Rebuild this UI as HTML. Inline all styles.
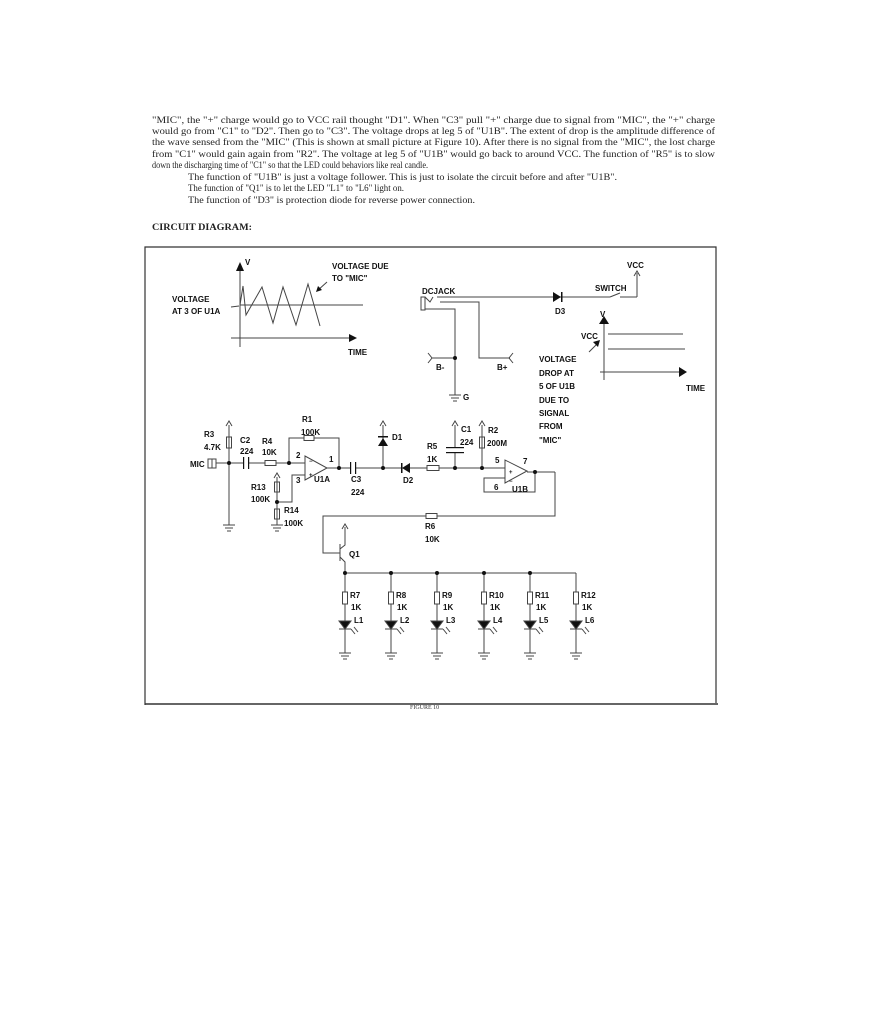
<!DOCTYPE html>
<html><head><meta charset="utf-8"><style>
html,body{margin:0;padding:0;background:#fff;}
svg{display:block;}
.p{font-family:"Liberation Serif",serif;font-size:9.4px;fill:#222;}
.t{font-family:"Liberation Sans",sans-serif;font-size:8px;font-weight:bold;fill:#111;}
</style></head><body>
<svg width="879" height="1024" viewBox="0 0 879 1024" xmlns="http://www.w3.org/2000/svg">
<defs>
<g id="col" stroke="#444" stroke-width="1" fill="none">
<line x1="0" y1="0" x2="0" y2="80"/>
<rect x="-2.5" y="19" width="5" height="12" fill="#fff"/>
<polygon points="-6,48 6,48 0,56" fill="#111"/><line x1="-6" y1="56" x2="6" y2="56"/>
<line x1="6" y1="56" x2="10" y2="61"/><line x1="9" y1="54" x2="13" y2="59"/>
<line x1="-6" y1="80" x2="6" y2="80"/><line x1="-4" y1="83" x2="4" y2="83"/><line x1="-2" y1="86" x2="2" y2="86"/>
</g>
</defs>
<g class="p">
<text x="152" y="123" textLength="563" lengthAdjust="spacingAndGlyphs">"MIC", the "+" charge would go to VCC rail thought "D1". When "C3" pull "+" charge due to signal from "MIC", the "+" charge</text>
<text x="152" y="134" textLength="563" lengthAdjust="spacingAndGlyphs">would go from "C1" to "D2". Then go to "C3". The voltage drops at leg 5 of "U1B". The extent of drop is the amplitude difference of</text>
<text x="152" y="145" textLength="563" lengthAdjust="spacingAndGlyphs">the wave sensed from the "MIC" (This is shown at small picture at Figure 10). After there is no signal from the "MIC", the lost charge</text>
<text x="152" y="157" textLength="563" lengthAdjust="spacingAndGlyphs">from "C1" would gain again from "R2". The voltage at leg 5 of "U1B" would go back to around VCC. The function of "R5" is to slow</text>
<text x="152" y="168" textLength="276" lengthAdjust="spacingAndGlyphs">down the discharging time of "C1" so that the LED could behaviors like real candle.</text>
<text x="188" y="180" textLength="429" lengthAdjust="spacingAndGlyphs">The function of "U1B" is just a voltage follower. This is just to isolate the circuit before and after "U1B".</text>
<text x="188" y="191" textLength="216" lengthAdjust="spacingAndGlyphs">The function of "Q1" is to let the LED "L1" to "L6" light on.</text>
<text x="188" y="203" textLength="287" lengthAdjust="spacingAndGlyphs">The function of "D3" is protection diode for reverse power connection.</text>
<text x="152" y="230" font-weight="bold" textLength="100" lengthAdjust="spacingAndGlyphs">CIRCUIT DIAGRAM:</text>
</g>
<g fill="none" stroke="#333" stroke-width="1.2">
<polyline points="145,705 145,247 716,247 716,703"/>
<line x1="145" y1="704" x2="718" y2="704" stroke-width="1.5"/>
</g>
<g stroke="#444" stroke-width="1" fill="none">
<line x1="240" y1="268" x2="240" y2="347"/>
<line x1="231" y1="338" x2="352" y2="338"/>
<line x1="240" y1="305" x2="363" y2="305"/>
<polyline points="240,305 243,286 246,315 262,287 273,323 283,287 296,325 308,284 320,326"/>
<line x1="327" y1="282" x2="317" y2="291"/>
<line x1="231" y1="307" x2="239" y2="306"/>
<rect x="421" y="297" width="4" height="13"/>
<polyline points="425,297 430,302 433,297"/>
<line x1="437" y1="297" x2="610" y2="297"/>
<line x1="610" y1="297" x2="620" y2="293"/>
<line x1="620" y1="297" x2="637" y2="297"/>
<line x1="637" y1="297" x2="637" y2="273"/>
<polyline points="425,309 455,309 455,395"/>
<polyline points="440,302 479,302 479,358 510,358"/>
<line x1="432" y1="358" x2="455" y2="358"/>
<polyline points="428,353 432,358 428,363"/>
<polyline points="513,353 509,358 513,363"/>
<line x1="449" y1="395" x2="461" y2="395"/><line x1="451" y1="398" x2="459" y2="398"/><line x1="453" y1="401" x2="457" y2="401"/>
<line x1="604" y1="322" x2="604" y2="380"/>
<line x1="608" y1="334" x2="683" y2="334"/>
<line x1="608" y1="349" x2="685" y2="349"/>
<line x1="600" y1="372" x2="686" y2="372"/>
<line x1="589" y1="352" x2="598" y2="343"/>
<rect x="208" y="459" width="4" height="9"/>
<polyline points="212,459 216,459 216,468 212,468"/>
<line x1="216" y1="463" x2="244" y2="463"/>
<line x1="229" y1="425" x2="229" y2="525"/>
<rect x="226.5" y="437" width="5" height="11"/>
<line x1="249" y1="463" x2="265" y2="463"/>
<rect x="265" y="460.5" width="11" height="5"/>
<line x1="276" y1="463" x2="305" y2="463"/>
<polyline points="289,463 289,438 304,438"/><rect x="304" y="435.5" width="10" height="5"/><polyline points="314,438 339,438 339,469"/>
<polygon points="305,456 305,480 327,468"/>
<line x1="327" y1="468" x2="351" y2="468"/>
<polyline points="305,475 292,475 292,502 277,502"/>
<line x1="277" y1="477" x2="277" y2="525"/>
<rect x="274.5" y="482" width="5" height="10"/><rect x="274.5" y="509" width="5" height="10"/>
<line x1="271" y1="525" x2="283" y2="525"/><line x1="273" y1="528" x2="281" y2="528"/><line x1="275" y1="531" x2="279" y2="531"/>
<line x1="223" y1="525" x2="235" y2="525"/><line x1="225" y1="528" x2="233" y2="528"/><line x1="227" y1="531" x2="231" y2="531"/>
<line x1="356" y1="468" x2="402" y2="468"/>
<line x1="383" y1="425" x2="383" y2="468"/>
<line x1="410" y1="468" x2="427" y2="468"/>
<rect x="427" y="465.5" width="12" height="5"/>
<line x1="439" y1="468" x2="505" y2="468"/>
<line x1="455" y1="425" x2="455" y2="448"/><line x1="455" y1="453" x2="455" y2="468"/>
<line x1="482" y1="425" x2="482" y2="468"/><rect x="479.5" y="437" width="5" height="11"/>
<polygon points="505,460 505,483 527,471"/>
<line x1="527" y1="472" x2="555" y2="472"/>
<polyline points="505,478 484,478 484,492 535,492 535,472"/>
<polyline points="555,472 555,516 437,516"/><rect x="426" y="513.5" width="11" height="5"/><polyline points="426,516 323,516 323,553 340,553"/>
<line x1="340" y1="544" x2="340" y2="561"/>
<polyline points="340,549 345,545 345,527"/>
<polyline points="340,557 345,562 345,573"/>
<line x1="345" y1="573" x2="576" y2="573"/>
</g>
<g fill="#111" stroke="none">
<polygon points="240,262 236,271 244,271"/>
<polygon points="357,338 349,334 349,342"/>
<polygon points="316,292 318,286 322,290"/>
<polygon points="687,372 679,367 679,377"/>
<polygon points="604,316 599,324 609,324"/>
<polygon points="600,340 593,342 598,347"/>
<polygon points="553,292 553,302 561,297"/><rect x="561" y="292" width="1.5" height="10"/>
<polygon points="383,438 378,446 388,446"/><rect x="378" y="436" width="10" height="1.5"/>
<polygon points="410,463 410,473 402,468"/><rect x="401" y="463" width="1.5" height="10"/>
<rect x="446" y="447" width="18" height="1.2"/><rect x="446" y="452" width="18" height="1.2"/>
<rect x="243" y="457" width="1.2" height="12"/><rect x="248" y="457" width="1.2" height="12"/>
<rect x="350" y="462" width="1.2" height="12"/><rect x="355" y="462" width="1.2" height="12"/>
<circle cx="229" cy="463" r="2"/><circle cx="289" cy="463" r="2"/><circle cx="339" cy="468" r="2"/>
<circle cx="277" cy="502" r="2"/><circle cx="383" cy="468" r="2"/><circle cx="455" cy="468" r="2"/>
<circle cx="482" cy="468" r="2"/><circle cx="535" cy="472" r="2"/><circle cx="455" cy="358" r="2"/>
</g>
<g fill="none" stroke="#444" stroke-width="1">
<polyline points="226,426 229,421 232,426"/><polyline points="274,478 277,473 280,478"/>
<polyline points="380,426 383,421 386,426"/><polyline points="452,426 455,421 458,426"/>
<polyline points="479,426 482,421 485,426"/><polyline points="342,529 345,524 348,529"/>
<polyline points="634,276 637,271 640,276"/>
</g>
<g class="t">
<text x="309" y="463" font-size="6">−</text><text x="309" y="477" font-size="6">+</text>
<text x="509" y="474" font-size="6">+</text><text x="509" y="483" font-size="6">−</text>
</g>
<use href="#col" transform="translate(345,573)"/>
<use href="#col" transform="translate(391,573)"/>
<use href="#col" transform="translate(437,573)"/>
<use href="#col" transform="translate(484,573)"/>
<use href="#col" transform="translate(530,573)"/>
<use href="#col" transform="translate(576,573)"/>
<g fill="#111"><circle cx="345" cy="573" r="2"/><circle cx="391" cy="573" r="2"/><circle cx="437" cy="573" r="2"/><circle cx="484" cy="573" r="2"/><circle cx="530" cy="573" r="2"/></g>
<g class="t">
<text x="245" y="265">V</text>
<text x="332" y="269">VOLTAGE DUE</text><text x="332" y="281">TO "MIC"</text>
<text x="172" y="302">VOLTAGE</text><text x="172" y="314">AT 3 OF U1A</text>
<text x="348" y="355">TIME</text>
<text x="422" y="294">DCJACK</text><text x="555" y="314">D3</text>
<text x="595" y="291">SWITCH</text><text x="627" y="268">VCC</text>
<text x="436" y="370">B-</text><text x="497" y="370">B+</text><text x="463" y="400">G</text>
<text x="600" y="317">V</text><text x="581" y="339">VCC</text><text x="686" y="391">TIME</text>
<text x="539" y="362">VOLTAGE</text><text x="539" y="376">DROP AT</text><text x="539" y="389">5 OF U1B</text>
<text x="539" y="403">DUE TO</text><text x="539" y="416">SIGNAL</text><text x="539" y="429">FROM</text><text x="539" y="443">"MIC"</text>
<text x="204" y="437">R3</text><text x="204" y="450">4.7K</text>
<text x="240" y="443">C2</text><text x="240" y="454">224</text>
<text x="262" y="444">R4</text><text x="262" y="455">10K</text>
<text x="190" y="467">MIC</text>
<text x="302" y="422">R1</text><text x="301" y="435">100K</text>
<text x="296" y="458">2</text><text x="296" y="483">3</text><text x="329" y="462">1</text><text x="314" y="482">U1A</text>
<text x="251" y="490">R13</text><text x="251" y="502">100K</text>
<text x="284" y="513">R14</text><text x="284" y="526">100K</text>
<text x="351" y="482">C3</text><text x="351" y="495">224</text>
<text x="392" y="440">D1</text><text x="403" y="483">D2</text>
<text x="427" y="449">R5</text><text x="427" y="462">1K</text>
<text x="461" y="432">C1</text><text x="460" y="445">224</text>
<text x="488" y="433">R2</text><text x="487" y="446">200M</text>
<text x="495" y="463">5</text><text x="523" y="464">7</text><text x="494" y="490">6</text><text x="512" y="492">U1B</text>
<text x="425" y="529">R6</text><text x="425" y="542">10K</text>
<text x="349" y="557">Q1</text>
<text x="350" y="598">R7</text><text x="351" y="610">1K</text><text x="354" y="623">L1</text>
<text x="396" y="598">R8</text><text x="397" y="610">1K</text><text x="400" y="623">L2</text>
<text x="442" y="598">R9</text><text x="443" y="610">1K</text><text x="446" y="623">L3</text>
<text x="489" y="598">R10</text><text x="490" y="610">1K</text><text x="493" y="623">L4</text>
<text x="535" y="598">R11</text><text x="536" y="610">1K</text><text x="539" y="623">L5</text>
<text x="581" y="598">R12</text><text x="582" y="610">1K</text><text x="585" y="623">L6</text>
</g>
<text x="410" y="709" font-family="Liberation Serif,serif" font-size="6" fill="#333">FIGURE 10</text>
</svg>
</body></html>
